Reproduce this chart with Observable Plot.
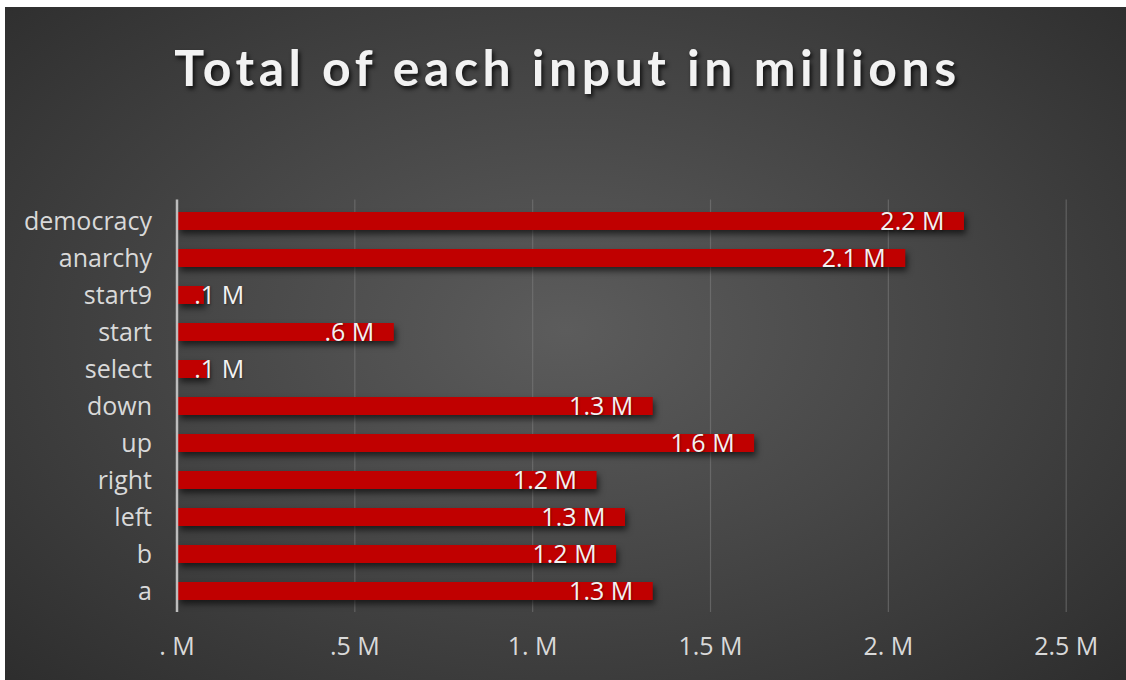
<!DOCTYPE html>
<html>
<head>
<meta charset="utf-8">
<script src="https://cdn.jsdelivr.net/npm/d3@7"></script>
<script src="https://cdn.jsdelivr.net/npm/@observablehq/plot@0.6"></script>
<style>
  html, body { margin: 0; padding: 0; background: #ffffff; width: 1126px; height: 680px; overflow: hidden; }
  #chart {
    position: absolute; left: 5px; top: 7px; width: 1121px; height: 673px;
    background: radial-gradient(ellipse 75% 80% at 50% 48%, #5c5c5c 0%, #464646 45%, #2a2a2a 100%);
    overflow: hidden;
  }
  #title {
    position: absolute; left: 0; top: 30px; width: 100%; text-align: center;
    font-family: Lato, "Open Sans", sans-serif; font-weight: 700; font-size: 50px;
    color: #f2f2f2; letter-spacing: 4.5px; text-indent: 4px;
    text-shadow: 2px 3px 4px rgba(0,0,0,0.75);
  }
  #plot { position: absolute; left: 0; top: 143px; }
  #plot svg { display: block; background: transparent; overflow: visible; }
  #plot g[aria-label="bar"] rect { filter: drop-shadow(2px 4px 3px rgba(0,0,0,0.6)); }
  #plot g[aria-label="text"] text { text-shadow: 1px 1px 2px rgba(0,0,0,0.35); }
</style>
</head>
<body>
<div id="chart">
  <div id="title">Total of each input in millions</div>
  <div id="plot"></div>
</div>
<script>
const categories = ["democracy", "anarchy", "start9", "start", "select", "down", "up", "right", "left", "b", "a"];
const values = [2.214, 2.049, 0.077, 0.611, 0.086, 1.339, 1.624, 1.181, 1.261, 1.236, 1.339];
const valueLabels = ["2.2 M", "2.1 M", ".1 M", ".6 M", ".1 M", "1.3 M", "1.6 M", "1.2 M", "1.3 M", "1.2 M", "1.3 M"];
const xTicks = [0, 0.5, 1, 1.5, 2, 2.5];
const xTickLabels = [". M", ".5 M", "1. M", "1.5 M", "2. M", "2.5 M"];

const data = categories.map((c, i) => ({ category: c, value: values[i], label: valueLabels[i] }));
const minLabelEnd = 0.245;

const chart = Plot.plot({
  width: 1121,
  height: 530,
  marginLeft: 171.5,
  marginRight: 60.3,
  marginTop: 49.5,
  marginBottom: 68,
  style: { background: "transparent", color: "#d9d9d9", fontFamily: "'Open Sans', sans-serif" },
  x: { domain: [0, 2.5], axis: null },
  y: { domain: categories, paddingInner: 0.52, paddingOuter: 0.26, axis: null },
  marks: [
    Plot.gridX(xTicks.slice(1), { stroke: "#808080", strokeOpacity: 0.55, strokeWidth: 1.2 }),
    Plot.barX(data, { x: "value", y: "category", fill: "#c00000", insetLeft: 1.5 }),
    Plot.ruleX([0], { stroke: "#bdbdbd", strokeWidth: 2.5 }),
    Plot.text(data, {
      x: d => Math.max(d.value, minLabelEnd), y: "category", text: "label",
      textAnchor: "end", dx: -20, dy: 0, fill: "#f2f2f2", fontSize: 25
    }),
    Plot.axisY({ tickSize: 0, tickPadding: 25, fontSize: 25, fill: "#d9d9d9", label: null }),
    Plot.axisX({ ticks: xTicks, tickSize: 0, tickPadding: 25, fontSize: 25, fill: "#d9d9d9", label: null,
      tickFormat: d => xTickLabels[xTicks.indexOf(d)] })
  ]
});
document.getElementById("plot").appendChild(chart);
</script>
</body>
</html>
